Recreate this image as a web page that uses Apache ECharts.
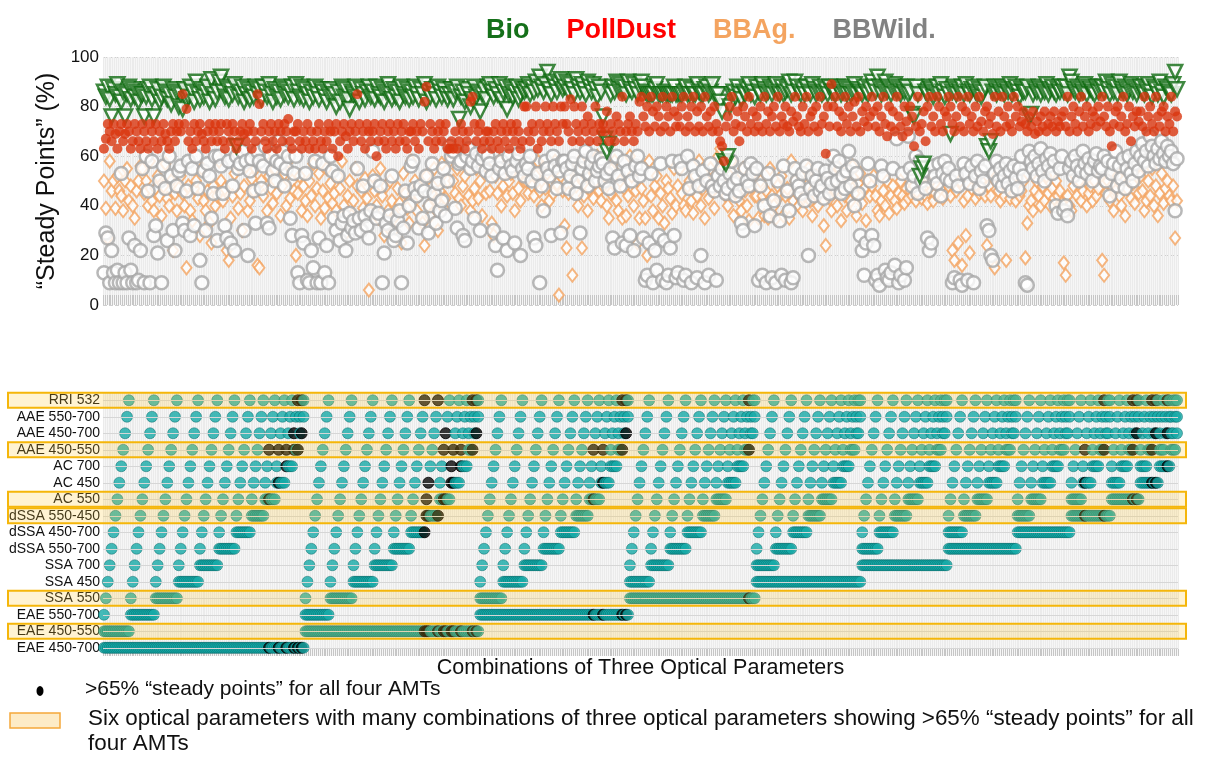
<!DOCTYPE html>
<html><head><meta charset="utf-8">
<script src="https://cdn.jsdelivr.net/npm/echarts@6/dist/echarts.min.js"></script>
<style>html,body{margin:0;padding:0;background:#fff}#c{width:1221px;height:757px}</style>
</head><body><div id="c"></div>
<script>
// ---- Optical parameters (bottom to top of the combination matrix) ----
const params = ['EAE 450-700','EAE 450-550','EAE 550-700','SSA 550','SSA 450','SSA 700',
  'dSSA 550-700','dSSA 450-700','dSSA 550-450','AC 550','AC 450','AC 700',
  'AAE 450-550','AAE 450-700','AAE 550-700','RRI 532'];
const highlightedParams = ['RRI 532','AAE 450-550','AC 550','dSSA 550-450','SSA 550','EAE 450-550'];
// combinations (indices into params) with >65% steady points for all four AMTs
const steadyAllCombos = [
  [0,9,12],[0,10,12],[0,11,12],[0,12,13],[0,12,15],[0,13,15],
  [1,7,15],[1,8,9],[1,8,10],[1,8,15],[1,9,12],[1,9,13],[1,10,11],[1,10,12],[1,11,12],[1,12,15],[1,13,15],
  [2,9,12],[2,10,12],[2,12,15],[2,13,15],
  [3,12,15],
  [8,10,12],[8,12,15],[9,12,15],[9,13,15],[10,12,15],[10,13,15],[11,13,15]];

// ---- "Steady points" (%) per combination ----
const bio = [
86,84,88,83,76,87,85,89,84,82,86,76,85,88,83,87,84,86,82,85,
85,76,84,87,88,83,76,85,87,82,84,88,86,83,85,81,87,84,86,80,
85,79,87,83,84,88,86,82,90,85,83,87,84,86,88,82,91,85,83,86,
90,92,86,84,88,83,87,85,89,64,84,86,88,82,85,87,83,86,84,88,
85,87,83,88,86,84,89,85,82,87,84,86,83,88,85,87,84,86,88,83,
89,86,84,88,83,87,85,82,86,84,88,85,83,87,86,84,82,85,87,84,
85,80,86,82,88,84,87,83,79,86,85,88,84,82,87,85,83,86,88,84,
86,83,88,85,84,87,82,86,89,85,83,87,84,86,82,88,85,84,87,83,
86,84,88,85,83,87,85,89,82,86,84,87,85,83,88,86,84,87,85,83,
85,87,83,86,88,75,84,86,82,87,85,80,83,88,84,86,78,85,87,83,
88,89,86,84,87,85,89,83,86,88,79,85,87,84,86,88,83,85,87,86,
87,89,85,88,86,90,87,92,88,86,89,94,87,85,90,88,86,89,91,87,
88,90,86,89,87,85,91,88,86,89,87,85,90,88,86,89,87,84,88,86,
76,67,62,65,85,88,86,90,87,89,86,88,85,90,87,86,89,87,85,88,
90,88,86,85,85,85,85,87,89,85,85,85,86,85,85,85,85,88,85,85,
85,85,86,88,85,85,87,85,85,89,86,85,85,87,88,85,86,89,85,85,
85,82,78,58,57,60,80,85,86,84,88,85,83,86,85,87,89,85,86,84,
88,86,85,89,87,85,86,88,85,87,89,86,85,88,85,86,87,90,85,86,
90,88,86,85,87,85,88,86,85,89,87,85,86,88,85,86,87,85,88,86,
86,85,88,87,85,86,88,85,87,85,86,89,85,87,86,85,88,86,85,87,
90,88,86,92,88,85,87,90,86,88,85,87,89,86,88,85,87,86,88,85,
86,77,76,88,85,52,55,57,86,85,88,87,84,86,88,85,89,86,84,87,
85,69,86,88,85,87,86,88,85,89,86,85,87,88,86,85,87,84,86,88,
64,62,66,86,88,85,87,86,88,85,87,86,89,85,87,88,86,84,87,86,
86,88,76,77,85,87,86,88,85,87,86,89,85,87,88,86,85,87,86,88,
86,88,85,92,90,87,86,88,85,87,86,89,85,88,87,86,85,88,86,87,
88,86,90,87,85,89,86,88,85,90,87,86,88,85,87,89,86,88,85,87,
88,86,85,87,89,86,84,88,87,85,90,86,84,88,87,86,85,89,94,87];
const pollDust = [
63,67,73,70,66,73,69,63,70,73,66,69,73,70,63,66,73,70,66,63,
73,70,66,63,73,70,66,73,63,70,66,73,69,66,63,70,73,66,70,73,
70,85,73,79,66,70,63,73,66,70,73,69,66,63,70,73,66,70,73,66,
70,73,66,63,73,70,66,73,70,63,66,70,73,69,66,70,73,63,70,66,
85,81,70,73,66,63,70,73,66,70,63,73,70,66,73,70,75,66,63,70,
70,73,66,63,70,66,73,63,70,66,63,70,73,66,63,70,66,73,70,63,
70,73,60,66,70,73,68,63,70,73,66,70,85,73,66,70,63,73,70,66,
70,73,60,66,70,73,66,63,70,73,66,70,63,73,66,70,73,66,63,70,
70,73,66,70,63,73,70,82,88,66,73,70,63,66,70,73,66,70,73,63,
63,66,63,70,63,66,73,70,63,66,70,82,84,73,66,70,73,63,66,70,
70,66,63,70,73,66,63,70,73,66,70,63,73,70,66,73,70,63,66,80,
80,70,66,73,70,80,63,73,66,70,80,73,70,66,80,73,70,66,80,73,
80,73,70,83,66,80,73,70,66,80,73,70,76,66,73,70,80,66,73,70,
73,70,78,66,73,70,66,76,73,70,84,66,70,73,76,70,66,73,70,82,
84,76,72,80,70,84,78,72,80,76,70,84,72,80,76,70,84,78,72,76,
72,80,84,70,76,72,80,84,70,78,72,80,70,84,76,72,78,70,80,73,
70,66,64,58,72,76,80,84,70,73,78,66,72,80,76,70,84,73,78,70,
76,72,80,70,84,73,78,70,76,80,72,84,70,76,73,80,72,70,78,74,
84,76,72,70,80,73,84,70,76,78,72,80,70,84,73,76,61,80,72,89,
80,84,72,78,70,76,84,73,80,70,76,82,72,84,70,78,74,80,72,76,
84,78,72,80,70,76,84,73,68,80,72,78,70,84,76,72,68,80,74,70,
80,76,64,72,84,70,73,78,66,80,84,72,76,70,84,80,73,70,78,76,
84,80,73,70,76,84,72,80,70,78,84,73,76,70,80,72,84,74,70,78,
80,73,76,69,84,72,78,70,84,76,72,80,73,70,84,76,80,72,74,78,
73,70,76,72,78,69,74,70,76,72,78,70,73,76,72,78,70,74,72,76,
78,72,84,70,76,80,73,70,78,84,72,76,80,70,73,78,76,72,80,74,
84,76,72,80,70,64,73,78,80,72,76,84,70,73,80,66,76,72,78,74,
78,72,84,70,76,80,73,70,84,76,72,78,80,70,76,73,84,70,78,76];
const bbAg = [
50,39,27,58,46,50,39,52,46,44,38,50,55,42,48,40,35,46,50,56,
55,45,50,40,58,42,38,47,52,44,36,48,57,43,40,50,22,45,38,47,
52,45,40,15,48,38,34,47,50,43,28,55,42,38,46,33,25,48,40,44,
58,50,42,47,22,18,35,44,53,60,39,45,30,48,56,38,42,51,46,55,
16,15,50,44,60,38,52,47,41,55,45,62,36,48,53,40,58,43,50,46,
20,45,52,38,48,42,36,50,44,57,40,47,53,35,46,39,55,43,49,41,
45,38,52,47,58,40,29,44,50,36,42,55,48,33,46,39,51,43,6,37,
52,46,40,35,55,44,28,48,38,50,42,30,36,47,41,25,53,45,39,33,
58,45,50,38,44,47,33,24,52,40,36,48,55,42,30,46,57,39,43,50,
58,62,50,45,55,43,40,48,52,60,44,38,42,47,55,43,50,36,58,45,
55,46,33,28,52,45,58,40,48,56,44,50,53,45,38,57,47,42,55,50,
50,45,55,48,44,52,58,46,40,55,47,53,42,50,45,58,49,4,52,46,
32,23,45,55,12,50,48,40,58,23,44,52,38,47,55,43,50,60,46,42,
48,52,40,35,45,55,58,42,38,50,35,47,36,44,60,52,40,46,25,35,
47,42,35,20,58,44,38,48,52,35,45,40,33,50,47,43,37,55,40,48,
55,45,40,38,48,50,42,37,52,44,58,40,47,35,50,43,55,46,39,48,
60,63,55,48,44,40,52,58,36,45,50,42,38,55,46,40,34,48,53,44,
44,35,50,44,36,46,35,55,44,40,35,48,44,52,36,44,47,35,58,42,
50,45,40,52,38,44,48,55,42,36,47,52,40,45,50,32,24,46,43,38,
52,46,40,55,34,48,44,38,50,42,56,45,36,49,53,41,47,34,50,44,
48,52,44,38,36,42,46,40,50,37,44,48,42,39,45,50,44,41,47,43,
46,44,48,42,45,50,43,47,44,41,49,46,42,45,48,44,47,43,50,45,
48,44,22,18,46,25,50,16,42,28,44,21,47,52,43,48,45,50,46,44,
24,48,44,17,15,52,46,42,50,44,18,47,43,49,45,42,48,44,46,50,
19,33,40,42,38,46,50,44,40,48,42,52,45,40,47,43,50,44,46,41,
17,12,44,40,38,48,52,44,50,42,46,54,40,45,48,42,50,44,47,52,
18,12,45,50,42,48,38,46,52,44,40,55,36,47,50,43,49,41,52,45,
52,46,38,42,50,44,55,40,48,36,45,53,41,47,50,44,42,48,27,42];
const bbWild = [
13,29,27,9,22,13,9,14,9,53,9,13,9,27,14,9,24,9,10,22,
55,9,60,46,9,58,28,32,21,50,9,56,47,26,60,52,30,22,48,54,
56,33,30,46,58,28,55,32,60,47,18,9,54,30,57,52,35,45,60,26,
60,56,45,32,27,58,25,48,22,60,55,57,62,30,58,20,54,59,46,33,
62,58,47,56,64,33,31,60,54,50,58,66,57,62,48,55,60,35,28,53,
60,13,9,28,25,53,10,9,22,15,58,9,27,9,57,13,24,9,60,54,
35,30,52,26,33,36,22,28,37,31,34,29,55,35,30,48,36,32,27,38,
62,50,35,37,48,9,21,33,30,36,52,26,28,34,38,9,31,46,25,40,
56,58,47,44,31,48,35,46,52,29,40,57,45,33,49,38,42,55,36,50,
64,60,62,39,31,57,58,28,26,60,63,55,58,35,61,56,30,59,62,54,
60,57,52,30,24,14,55,58,27,53,22,60,56,54,25,58,61,20,55,52,
57,55,60,50,27,24,53,9,48,38,58,55,52,28,60,56,47,54,29,58,
58,55,47,52,57,60,45,50,29,55,58,62,48,53,57,60,50,54,56,59,
57,50,53,47,55,27,23,60,52,48,25,58,24,54,28,50,22,56,60,52,
55,27,10,12,25,53,9,22,14,28,57,10,26,9,12,23,58,28,11,13,
58,55,10,12,60,47,9,56,52,11,48,20,54,9,50,12,57,48,46,10,
52,48,55,50,45,47,53,58,49,44,51,46,33,30,55,50,48,57,53,32,
55,10,48,12,40,9,53,36,11,42,9,50,34,12,56,10,46,38,9,11,
55,50,48,45,53,42,56,20,47,52,44,50,55,46,48,43,54,51,45,49,
60,55,50,58,45,52,47,54,62,48,56,40,53,45,28,22,12,25,57,50,
28,24,10,12,8,56,52,14,11,10,13,55,16,67,9,12,53,10,15,68,
55,48,52,60,45,58,50,54,47,27,22,25,56,52,49,57,44,53,58,51,
55,50,9,11,52,48,10,8,57,53,10,49,56,9,52,58,47,54,50,56,
32,30,20,18,53,58,50,55,48,52,57,49,54,46,56,51,47,55,60,52,
9,8,62,58,55,60,52,57,63,54,50,59,56,61,53,58,40,37,55,60,
38,40,36,55,58,52,60,56,50,54,62,57,53,59,55,50,58,61,54,56,
55,60,50,58,44,53,57,62,48,56,51,59,47,55,60,53,50,57,62,54,
60,65,58,62,56,68,64,60,57,63,59,66,61,58,64,60,62,57,38,59];
const yTicks = [0, 20, 40, 60, 80, 100];

// ---- all combinations of three parameters (lexicographic order) ----
const combos = [];
for (let i = 0; i < params.length; i++)
  for (let j = i + 1; j < params.length; j++)
    for (let k = j + 1; k < params.length; k++) combos.push([i, j, k]);
const comboLabels = combos.map(c => c.map(i => params[i]).join(' / '));
const steadyKeys = new Set(steadyAllCombos.map(c => c.join(',')));
const matrixData = [];
combos.forEach((c, ci) => {
  const steady = steadyKeys.has(c.join(','));
  c.forEach(p => matrixData.push(steady
    ? { value: [ci, p], itemStyle: { color: '#060606', borderColor: '#000' } }
    : [ci, p]));
});

const FONT = 'Liberation Sans, Arial, sans-serif';
const chart = echarts.init(document.getElementById('c'), null, { renderer: 'canvas' });
chart.setOption({
  animation: false,
  backgroundColor: '#fff',
  textStyle: { fontFamily: FONT },
  legend: {
    top: 12, left: 476, icon: 'none', itemWidth: 0, itemGap: 32, selectedMode: false,
    data: [
      { name: 'Bio', textStyle: { color: '#15701a' } },
      { name: 'PollDust', textStyle: { color: '#ff0000' } },
      { name: 'BBAg.', textStyle: { color: '#f4a460' } },
      { name: 'BBWild.', textStyle: { color: '#828282' } }],
    textStyle: { fontSize: 27, fontWeight: 'bold', fontFamily: FONT }
  },
  grid: [
    { left: 103, top: 57, width: 1075, height: 248, show: true, backgroundColor: '#f6f6f6', borderWidth: 0 },
    { left: 103, top: 392, width: 1075, height: 264, show: true, backgroundColor: '#f6f6f6', borderWidth: 0 }
  ],
  xAxis: [
    { type: 'category', gridIndex: 0, data: comboLabels, boundaryGap: true,
      axisLine: { show: false }, axisLabel: { show: false },
      axisTick: { show: true, inside: true, length: 10, interval: 0, lineStyle: { color: '#c6c6c6' } },
      splitLine: { show: true, interval: 0, lineStyle: { color: '#ebebeb', width: 1 } } },
    { type: 'category', gridIndex: 1, data: comboLabels, boundaryGap: true,
      axisLine: { show: false }, axisLabel: { show: false },
      axisTick: { show: true, inside: true, length: 7, interval: 0, lineStyle: { color: '#c6c6c6' } },
      splitLine: { show: true, interval: 0, lineStyle: { color: '#ebebeb', width: 1 } },
      name: 'Combinations of Three Optical Parameters', nameLocation: 'middle', nameGap: 1,
      nameTextStyle: { fontSize: 21.5, color: '#111', verticalAlign: 'top', fontFamily: FONT } }
  ],
  yAxis: [
    { type: 'value', gridIndex: 0, min: yTicks[0], max: yTicks[yTicks.length - 1], interval: 20,
      axisLine: { show: false }, axisTick: { show: false },
      axisLabel: { fontSize: 17, color: '#111', margin: 4 },
      splitLine: { show: true, lineStyle: { color: '#cfcfcf', type: 'dashed', width: 1 } },
      name: '\u201cSteady Points\u201d (%)', nameLocation: 'middle', nameGap: 41, nameRotate: 90,
      nameTextStyle: { fontSize: 25, color: '#111', fontFamily: FONT } },
    { type: 'category', gridIndex: 1, data: params, boundaryGap: true,
      axisLine: { show: false }, axisTick: { show: false },
      axisLabel: { fontSize: 14, color: '#111', margin: 3, interval: 0 },
      splitLine: { show: false } }
  ],
  series: [
    { name: 'BBAg.', type: 'scatter', xAxisIndex: 0, yAxisIndex: 0, data: bbAg,
      symbol: 'diamond', symbolSize: [10, 13],
      itemStyle: { color: '#fff', borderColor: '#f4a460', borderWidth: 2 } },
    { name: 'BBWild.', type: 'scatter', xAxisIndex: 0, yAxisIndex: 0, data: bbWild,
      symbol: 'circle', symbolSize: 13,
      itemStyle: { color: '#fff', borderColor: '#a6a6a6', borderWidth: 2.5 } },
    { name: 'Bio', type: 'scatter', xAxisIndex: 0, yAxisIndex: 0, data: bio,
      symbol: 'triangle', symbolRotate: 180, symbolSize: 14,
      itemStyle: { color: '#fff', borderColor: '#106b12', borderWidth: 2.5 } },
    { name: 'PollDust', type: 'scatter', xAxisIndex: 0, yAxisIndex: 0, data: pollDust,
      symbol: 'circle', symbolSize: 10,
      itemStyle: { color: '#d9360f', borderWidth: 0 } },
    // row guide lines
    { name: 'rows', type: 'scatter', xAxisIndex: 1, yAxisIndex: 1, data: [], z: 1, silent: true,
      markLine: { silent: true, symbol: ['none', 'none'], label: { show: false },
        lineStyle: { color: '#d6d6d6', width: 1, type: 'solid' },
        data: params.map(p => ({ yAxis: p })) } },
    // combination matrix
    { name: 'matrix', type: 'scatter', xAxisIndex: 1, yAxisIndex: 1, data: matrixData, z: 3,
      symbol: 'circle', symbolSize: 11,
      itemStyle: { color: '#16aaa8', borderColor: 'rgba(0,95,95,0.55)', borderWidth: 1 } },
    // highlighted parameter bands (drawn over the matrix)
    { name: 'bands', type: 'custom', xAxisIndex: 1, yAxisIndex: 1, z: 10, silent: true,
      data: highlightedParams.map(p => [0, params.indexOf(p)]),
      renderItem: (prm, api) => {
        const y = api.coord([0, api.value(1)])[1];
        const h = api.size([0, 1])[1] - 1.5;
        return { type: 'rect', shape: { x: 8, y: y - h / 2, width: 1178, height: h },
          style: { fill: 'rgba(255,200,50,0.22)', stroke: '#f5b60a', lineWidth: 2 } };
      } }
  ],
  graphic: [
    { type: 'ellipse', shape: { cx: 40, cy: 691, rx: 3.5, ry: 5 }, style: { fill: '#000' } },
    { type: 'text', left: 85, top: 679, style: { text: '>65% \u201csteady points\u201d for all four AMTs',
      font: '21px ' + FONT, fill: '#111' } },
    { type: 'rect', shape: { x: 10, y: 713, width: 50, height: 15 },
      style: { fill: '#fdebc6', stroke: '#f5a83a', lineWidth: 1.5 } },
    { type: 'text', left: 88, top: 708, style: { text: 'Six optical parameters with many combinations of three optical parameters showing >65% \u201csteady points\u201d for all',
      font: '22.4px ' + FONT, fill: '#111' } },
    { type: 'text', left: 88, top: 733, style: { text: 'four AMTs', font: '22.4px ' + FONT, fill: '#111' } }
  ]
});
</script></body></html>
